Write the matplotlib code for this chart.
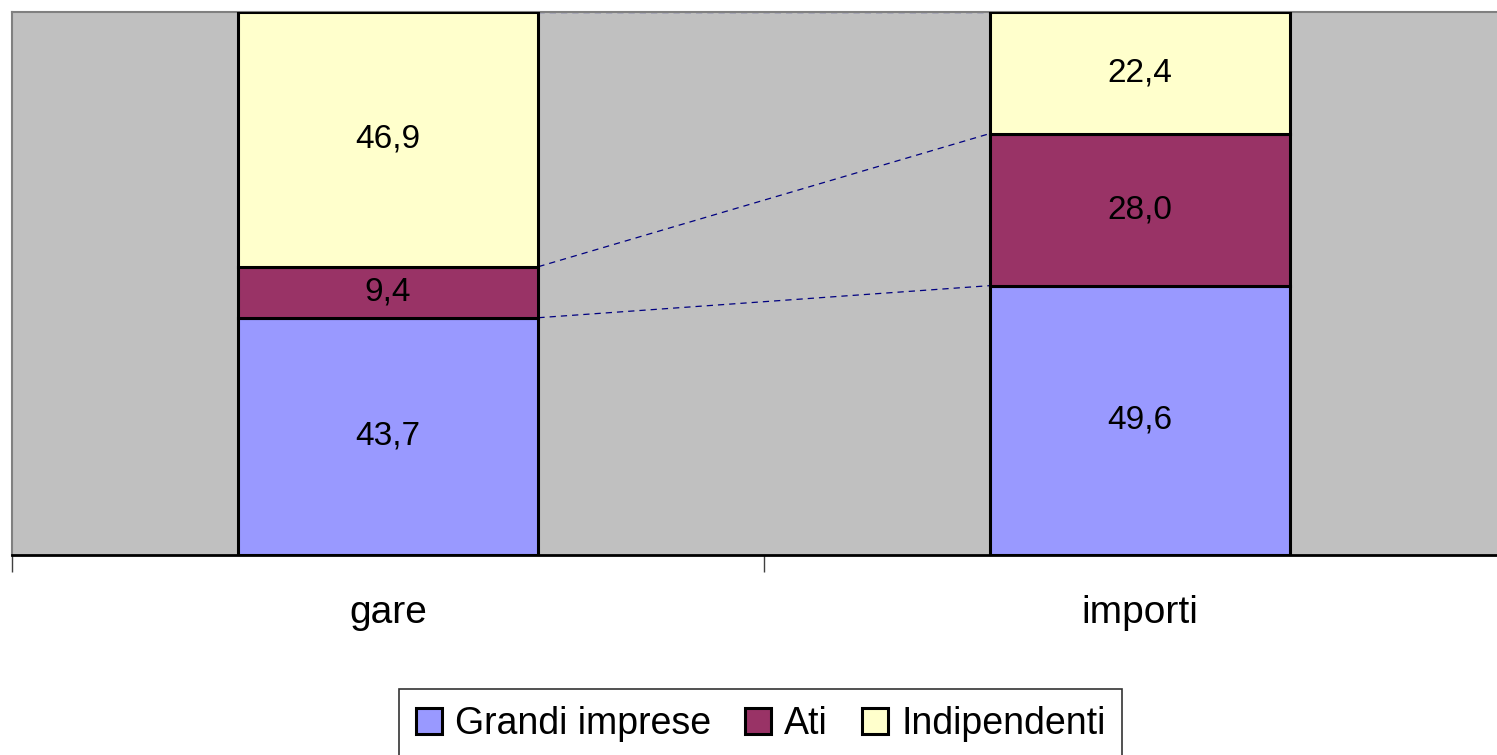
import matplotlib.pyplot as plt
import numpy as np

plt.rcParams['font.family'] = ['Liberation Sans', 'DejaVu Sans']

# dati
categorie = ['gare', 'importi']
serie = ['Grandi imprese', 'Ati', 'Indipendenti']
grandi = [43.7, 49.6]
ati = [9.4, 28.0]
indip = [46.9, 22.4]
colori = ['#9999FF', '#993366', '#FFFFCC']

W, H = 1497, 755
fig = plt.figure(figsize=(W / 100, H / 100), dpi=100)
ax = fig.add_axes([12 / W, 1 - 555 / H, 1504 / W, 543 / H])
ax.set_facecolor('#C0C0C0')

x = np.arange(len(categorie))
larg = 0.40
valori = [grandi, ati, indip]
base = np.zeros(len(categorie))
cumul = []
for nome, v, c in zip(serie, valori, colori):
    v = np.array(v)
    ax.bar(x, v, larg, bottom=base, color=c, edgecolor='black', linewidth=2.2,
           label=nome, zorder=3)
    for xi, b, vi in zip(x, base, v):
        ax.text(xi, b + vi / 2, ('%.1f' % vi).replace('.', ','), ha='center',
                va='center', fontsize=24, zorder=4)
    base = base + v
    cumul.append(base.copy())

# linee di serie tra le barre
for top in cumul:
    ax.plot([x[0] + larg / 2, x[1] - larg / 2], [top[0], top[1]],
            color='#000080', linestyle=(0, (5, 4)), linewidth=0.9, zorder=2)

ax.set_xlim(-0.5, 1.5)
ax.set_ylim(0, 100)
ax.set_yticks([])
ax.set_xticks(x)
ax.set_xticklabels(categorie, fontsize=28)
ax.tick_params(axis='x', which='major', length=0, pad=29)
ax.set_xticks([-0.5, 0.5, 1.5], minor=True)
ax.tick_params(axis='x', which='minor', length=12, width=1, color='#404040')

for s in ['left', 'top', 'right']:
    ax.spines[s].set_color('#808080')
    ax.spines[s].set_linewidth(1.5)
ax.spines['bottom'].set_color('black')
ax.spines['bottom'].set_linewidth(2)

leg = fig.legend(loc='upper center', bbox_to_anchor=(760.5 / W, 1 - 689 / H),
                 ncol=3, fontsize=27, frameon=True, fancybox=False,
                 edgecolor='black', handlelength=0.7, handleheight=0.7,
                 handletextpad=0.35, columnspacing=0.9, borderpad=0.45,
                 borderaxespad=0)
leg.get_frame().set_linewidth(1.2)
for p in leg.get_patches():
    p.set_linewidth(2.2)

fig.savefig('out.png', dpi=100)
